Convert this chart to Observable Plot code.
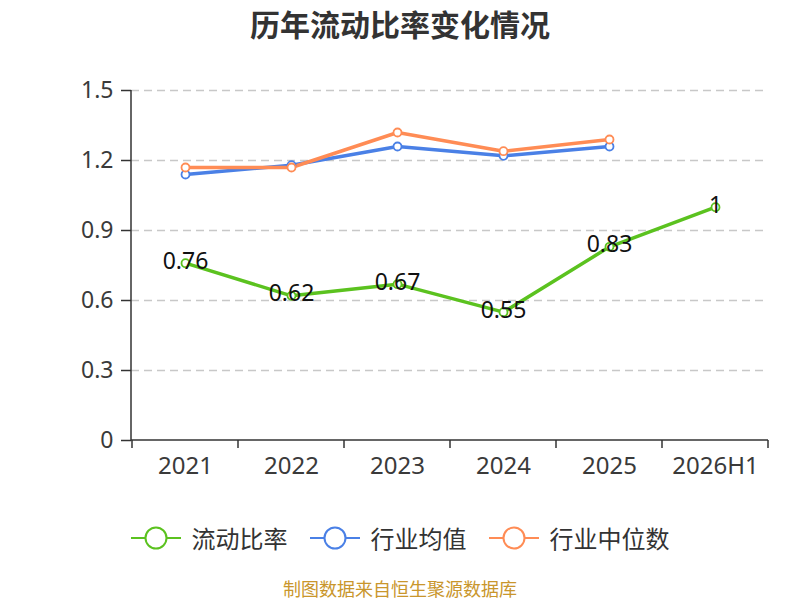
<!DOCTYPE html>
<html><head><meta charset="utf-8">
<script src="https://cdn.jsdelivr.net/npm/d3@7"></script>
<script src="https://cdn.jsdelivr.net/npm/@observablehq/plot@0.6"></script>
<style>
body{margin:0;width:800px;height:600px;background:#fff;position:relative;overflow:hidden;font-family:"Noto Sans CJK SC","Noto Sans",sans-serif}
#title{position:absolute;top:0;left:0;width:800px;text-align:center;font-size:30px;font-weight:bold;color:#333;line-height:46px}
#chart{position:absolute;top:60px;left:0}
#legend{position:absolute;top:524px;left:0;width:800px;display:flex;justify-content:center;align-items:center;font-size:24px;color:#333;line-height:28px}
#legend .item{display:flex;align-items:center;margin:0 11px}
#legend svg{margin-right:11px}
#caption{position:absolute;top:575px;left:0;width:800px;text-align:center;font-size:18px;color:#c9962c}
</style></head>
<body>
<div id="title">历年流动比率变化情况</div>
<div id="chart"></div>
<div id="legend"></div>
<div id="caption">制图数据来自恒生聚源数据库</div>
<script>
const years = ["2021","2022","2023","2024","2025","2026H1"];
const currentRatio = [0.76,0.62,0.67,0.55,0.83,1];
const industryMean = [1.14,1.18,1.26,1.22,1.26,null];
const industryMedian = [1.17,1.17,1.32,1.24,1.29,null];
const yTicks = [0,0.3,0.6,0.9,1.2,1.5];
const seriesNames = ["流动比率","行业均值","行业中位数"];
const seriesColors = ["#5bc21f","#4a80e6","#ff8c55"];

const seriesValues = [currentRatio, industryMean, industryMedian];
const rows = [];
seriesNames.forEach((name, si) => {
  years.forEach((y, i) => {
    const v = seriesValues[si][i];
    if (v != null) rows.push({series: name, year: y, value: v});
  });
});
const green = rows.filter(d => d.series === seriesNames[0]);

const axisLines = (index, scales, values, dims, context) => {
  const g = d3.create("svg:g").attr("stroke", "#333").attr("stroke-width", 1.5);
  const x = scales.x, bw = x.bandwidth();
  const y0 = dims.height - dims.marginBottom;
  const xl = dims.marginLeft, xr = dims.width - dims.marginRight;
  const xs = years.map(c => x(c)).concat([x(years[years.length-1]) + bw]);
  g.selectAll("line.t").data(xs).join("line")
    .attr("x1", d => d).attr("x2", d => d)
    .attr("y1", y0).attr("y2", y0 + 8);
  g.append("line").attr("x1", xl).attr("x2", xr).attr("y1", y0).attr("y2", y0);
  g.append("line").attr("x1", xl).attr("x2", xl).attr("y1", dims.marginTop).attr("y2", y0);
  return g.node();
};

const plot = Plot.plot({
  width: 800,
  height: 420,
  marginTop: 30,
  marginBottom: 40,
  marginLeft: 131,
  marginRight: 32,
  style: {fontFamily: "'Noto Sans','Noto Sans CJK SC',sans-serif", fontSize: "23px", color: "#333", background: "transparent"},
  x: {type: "band", domain: years, padding: 0, label: null},
  y: {domain: [0, 1.5], label: null},
  color: {domain: seriesNames, range: seriesColors},
  marks: [
    Plot.ruleY(yTicks.filter(t => t > 0), {stroke: "#c8c8c8", strokeWidth: 1.5, strokeDasharray: "8,5"}),
    Plot.axisY({ticks: yTicks, tickFormat: d => String(d), tickSize: 10, tickPadding: 8, stroke: "#333", strokeWidth: 1.5, fontSize: 23, fill: "#3a3a3a", label: null}),
    Plot.axisX({tickSize: 0, tickPadding: 16, fontSize: 24, fill: "#3a3a3a", label: null}),
    axisLines,
    Plot.line(rows, {x: "year", y: "value", z: "series", stroke: "series", strokeWidth: 3.5}),
    Plot.dot(rows, {x: "year", y: "value", stroke: "series", fill: "white", r: 4, strokeWidth: 1.8}),
    Plot.text(green, {x: "year", y: "value", text: d => String(d.value), fontSize: 23, fill: "#111", dy: -2})
  ]
});
document.getElementById("chart").appendChild(plot);

const legend = document.getElementById("legend");
seriesNames.forEach((name, i) => {
  const item = document.createElement("div");
  item.className = "item";
  item.innerHTML = `<svg width="50" height="26"><line x1="0" x2="50" y1="13" y2="13" stroke="${seriesColors[i]}" stroke-width="2"/><circle cx="25" cy="13" r="10.5" fill="white" stroke="${seriesColors[i]}" stroke-width="2"/></svg><span>${name}</span>`;
  legend.appendChild(item);
});
</script>
</body></html>
